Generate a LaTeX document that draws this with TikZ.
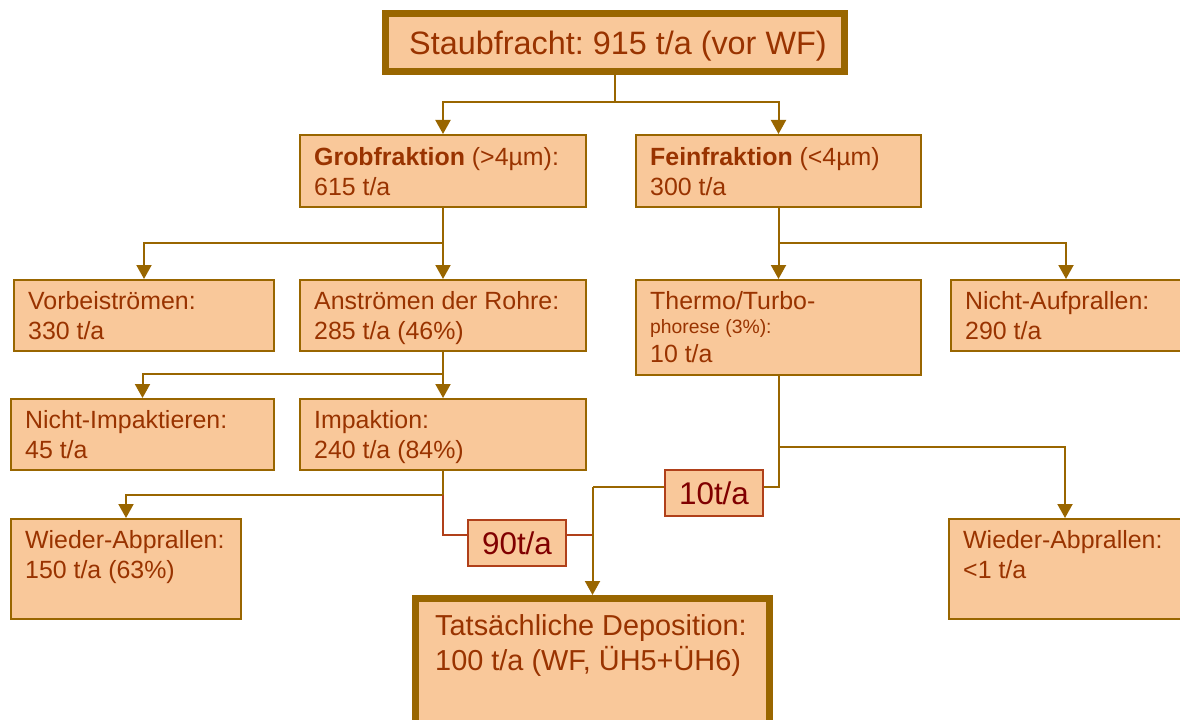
\documentclass[tikz,border=0pt]{standalone}
\usepackage{fontspec}
\setmainfont{Liberation Sans}
\usetikzlibrary{arrows.meta,calc}
\frenchspacing
\definecolor{boxfill}{HTML}{F9C89A}
\definecolor{boxline}{HTML}{996600}
\definecolor{boxtext}{HTML}{993300}
\definecolor{flowred}{HTML}{B0401A}
\definecolor{flowtext}{HTML}{800000}

\begin{document}
\begin{tikzpicture}[x=1bp,y=-1bp,>={Triangle[width=15bp,length=14bp]},
  box/.style={draw=boxline,fill=boxfill,line width=2bp,anchor=north west,inner sep=0pt},
  heavy/.style={box,line width=7bp},
  plaintxt/.style={anchor=base west,align=left,inner sep=0pt,text=boxtext,
    font=\fontsize{25}{30}\selectfont},
  txt/.style={plaintxt,xshift=15bp,yshift=-60bp},
  flowbox/.style={draw=flowred,fill=boxfill,line width=2bp,inner sep=0pt,minimum width=98bp,
    minimum height=46bp,text=flowtext,font=\fontsize{31.5}{36}\selectfont},
  conn/.style={draw=boxline,line width=2bp},
  flow/.style={draw=flowred,line width=2bp}]
  \useasboundingbox (0,0) rectangle (1180,720);
  \clip (0,0) rectangle (1180,720);

  % boxes
  \node[heavy,minimum width=459bp,minimum height=58bp,
    label={[plaintxt,xshift=27bp,yshift=-45bp,font=\fontsize{32.5}{36}\selectfont]north west:{Staubfracht: 915 t/a (vor WF)}}] (staub) at (382,10) {};
  \node[box,minimum width=286bp,minimum height=72bp,
    label={[plaintxt,xshift=15bp,yshift=-61bp]north west:{\textbf{Grobfraktion} (>4µm):\\615 t/a}}] (grob) at (299,134) {};
  \node[box,minimum width=285bp,minimum height=72bp,
    label={[plaintxt,xshift=15bp,yshift=-61bp]north west:{\textbf{Feinfraktion} (<4µm)\\300 t/a}}] (fein) at (635,134) {};
  \node[box,minimum width=260bp,minimum height=71bp,
    label={[txt]north west:{Vorbeiströmen:\\330 t/a}}] (vorbei) at (13,279) {};
  \node[box,minimum width=286bp,minimum height=71bp,
    label={[txt]north west:{Anströmen der Rohre:\\285 t/a (46\%)}}] (anstroem) at (299,279) {};
  \node[box,minimum width=285bp,minimum height=95bp,
    label={[plaintxt,xshift=15bp,yshift=-83bp]north west:{Thermo/Turbo-\\[-6bp]{\fontsize{19.4}{20}\selectfont phorese (3\%):}\\[-1bp]10 t/a}}] (thermo) at (635,279) {};
  \node[box,minimum width=230bp,minimum height=71bp,
    label={[txt]north west:{Nicht-Aufprallen:\\290 t/a}}] (nichtauf) at (950,279) {};
  \node[box,minimum width=263bp,minimum height=71bp,
    label={[txt]north west:{Nicht-Impaktieren:\\45 t/a}}] (nichtimp) at (10,398) {};
  \node[box,minimum width=286bp,minimum height=71bp,
    label={[txt]north west:{Impaktion:\\240 t/a (84\%)}}] (impakt) at (299,398) {};
  \node[box,minimum width=230bp,minimum height=100bp,
    label={[txt]north west:{Wieder-Abprallen:\\150 t/a (63\%)}}] (wiederL) at (10,518) {};
  \node[box,minimum width=232bp,minimum height=100bp,
    label={[txt]north west:{Wieder-Abprallen:\\<1 t/a}}] (wiederR) at (948,518) {};
  \node[heavy,minimum width=354bp,minimum height=140bp,
    label={[plaintxt,xshift=23bp,yshift=-75bp,font=\fontsize{29}{35}\selectfont]north west:{Tatsächliche Deposition:\\100 t/a (WF, ÜH5+ÜH6)}}] (depo) at (412,595) {};
  \node[flowbox] (lbl90) at (517,543) {90t/a};
  \node[flowbox] (lbl10) at (714,493) {10t/a};

  % connectors
  \draw[conn] (staub.south) -- ++(0,27) coordinate (s1);
  \draw[conn,->] (s1) -| (grob.north);
  \draw[conn,->] (s1) -| (fein.north);
  \draw[conn] (grob.south) -- ++(0,35) coordinate (g1);
  \draw[conn,->] (g1) -| (vorbei.north);
  \draw[conn,->] (g1) -- (anstroem.north);
  \draw[conn] (fein.south) -- ++(0,35) coordinate (f1);
  \draw[conn,->] (f1) -- (thermo.north);
  \draw[conn,->] (f1) -| (nichtauf.north);
  \draw[conn] (anstroem.south) -- ++(0,22) coordinate (a1);
  \draw[conn,->] (a1) -| (nichtimp.north);
  \draw[conn,->] (a1) -- (impakt.north);
  \draw[conn] (impakt.south) -- ++(0,24) coordinate (i1);
  \draw[conn,->] (i1) -| (wiederL.north);
  \draw[conn] (thermo.south) -- ++(0,71) coordinate (t1);
  \draw[conn,->] (t1) -| (wiederR.north);
  \coordinate (j90) at ([yshift=-16bp]lbl90.north east -| depo.north);
  \coordinate (j10) at ([yshift=-18bp]lbl10.north west -| depo.north);
  \draw[flow] (i1) |- ([yshift=-16bp]lbl90.north west);
  \draw[flow] ([yshift=-16bp]lbl90.north east) -- (j90);
  \draw[conn] (t1) |- ([yshift=-18bp]lbl10.north east);
  \draw[conn] ([yshift=-18bp]lbl10.north west) -- (j10);
  \draw[conn,->] (j10) -- (depo.north);
\end{tikzpicture}
\end{document}
